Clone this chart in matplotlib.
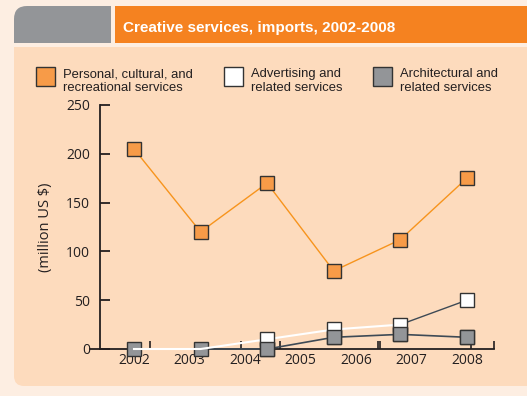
import numpy as np
import matplotlib
matplotlib.use("Agg")
import matplotlib.pyplot as plt
from matplotlib.patches import FancyBboxPatch, Rectangle

# ==========================================
# DATA
# ==========================================
point_x = [2002, 2003.2, 2004.4, 2005.6, 2006.8, 2008]
personal = [205, 120, 170, 80, 112, 175]
advertising = [0, 0, 10, 20, 25, 50]
architectural = [0, 0, 0, 12, 15, 12]
year_labels = [2002, 2003, 2004, 2005, 2006, 2007, 2008]
stray_ticks = [2002.29, 2003.93, 2004.63, 2006.40, 2006.44, 2008.07, 2008.49]
y_ticks = [0, 50, 100, 150, 200, 250]

TITLE = "Creative services, imports, 2002-2008"
LEGEND = [
    ("Personal, cultural, and\nrecreational services", "#F79B48"),
    ("Advertising and\nrelated services", "#FFFFFF"),
    ("Architectural and\nrelated services", "#939598"),
]

# ==========================================
# COLORS
# ==========================================
OUTER = "#FDEEE2"
PANEL = "#FDDBBD"
HEAD_OR = "#F58220"
HEAD_GR = "#939598"
EDGE = "#333333"
AXIS_FONT = "Open Sans"
TEXT_FONT = "Liberation Sans"

W, H = 527, 396
fig = plt.figure(figsize=(W / 100, H / 100), dpi=100)
fig.patch.set_facecolor(OUTER)

# background in pixel coords (y measured from the bottom)
bg = fig.add_axes([0, 0, 1, 1])
bg.set_xlim(0, W)
bg.set_ylim(0, H)
bg.axis("off")

def box(x, top, w, h, **kw):
    """rectangle given with top-left pixel coords"""
    return Rectangle((x, H - top - h), w, h, ec="none", **kw)

# gray tab, rounded top-left
bg.add_patch(FancyBboxPatch((14, H - 80), 130, 74, boxstyle="round,pad=0,rounding_size=13",
                            fc=HEAD_GR, ec="none"))
bg.add_patch(box(111, 0, 30, 60, fc=OUTER))
bg.add_patch(box(115, 6, W - 115, 37, fc=HEAD_OR))
bg.add_patch(box(0, 43, W, 40, fc=OUTER))

# panel, rounded bottom-left
bg.add_patch(FancyBboxPatch((14, H - 386), W + 20, 250, boxstyle="round,pad=0,rounding_size=10",
                            fc=PANEL, ec="none"))
bg.add_patch(box(14, 47, W, 120, fc=PANEL))

bg.text(123, H - 28, TITLE, color="white", fontsize=11, fontweight="bold",
        family=TEXT_FONT, ha="left", va="center")

# legend
for (label, color), bx in zip(LEGEND, [36, 224, 373]):
    bg.add_patch(Rectangle((bx, H - 86), 19, 19, fc=color, ec=EDGE, lw=1.0))
    bg.text(bx + 27, H - 81, label, fontsize=9.4, family=TEXT_FONT, color="#231F20",
            ha="left", va="center", linespacing=1.2)

bg.text(45, H - 227, "(million US $)", rotation=90, fontsize=10.5, family=AXIS_FONT,
        color="#231F20", ha="center", va="center")

# ==========================================
# CHART
# ==========================================
ax = fig.add_axes([100 / W, (H - 349) / H, 394 / W, 244 / H])
ax.set_facecolor("none")
ax.set_xlim(2001.387, 2008.486)
ax.set_ylim(0, 250)
for s in ["top", "right"]:
    ax.spines[s].set_visible(False)
for s in ["left", "bottom"]:
    ax.spines[s].set_color("#231F20")
    ax.spines[s].set_linewidth(1.3)

ax.set_yticks(y_ticks)
ax.set_yticklabels([str(v) for v in y_ticks], family=AXIS_FONT, fontsize=10, color="#231F20")
ax.tick_params(axis="y", direction="in", length=7, width=1.3, pad=7, color="#231F20")
ax.set_xticks(year_labels)
ax.set_xticklabels([str(v) for v in year_labels], family=AXIS_FONT, fontsize=10, color="#231F20")
ax.tick_params(axis="x", length=0, pad=3)
ax.set_xticks(stray_ticks, minor=True)
ax.tick_params(axis="x", which="minor", direction="in", length=6, width=1.2, color="#231F20")
ax.plot([2001.2, 2001.387], [0, 0], color="#231F20", lw=1.3, clip_on=False)

ms = 10
ax.plot(point_x, personal, color="#F7941D", lw=1.0, marker="s", ms=ms,
        mfc="#F79B48", mec=EDGE, mew=1.0, clip_on=False, zorder=3)
ax.plot(point_x, architectural, color="#3E4A55", lw=1.2, marker="s", ms=ms,
        mfc="#939598", mec=EDGE, mew=1.0, clip_on=False, zorder=3)
ax.plot(point_x[:5], advertising[:5], color="white", lw=1.5, clip_on=False, zorder=4)
ax.plot(point_x[4:], advertising[4:], color="#3E4A55", lw=1.0, clip_on=False, zorder=4)
ax.plot(point_x[2:], advertising[2:], ls="none", marker="s", ms=ms,
        mfc="white", mec=EDGE, mew=1.0, clip_on=False, zorder=4)
ax.plot(point_x[2:], architectural[2:], ls="none", marker="s", ms=ms,
        mfc="#939598", mec=EDGE, mew=1.0, clip_on=False, zorder=5)

fig.savefig("out.png", dpi=100, facecolor=fig.get_facecolor())
